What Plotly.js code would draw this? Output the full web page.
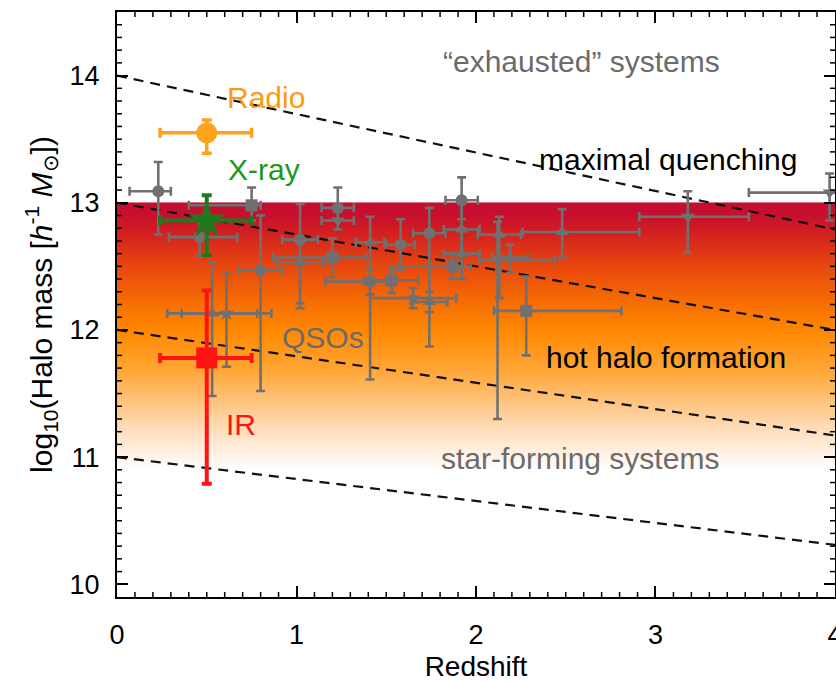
<!DOCTYPE html>
<html>
<head>
<meta charset="utf-8">
<script src="https://cdn.plot.ly/plotly-3.0.1.min.js"></script>
<style>html,body{margin:0;padding:0;background:#fff;}#chart{width:836px;height:682px;}</style>
</head>
<body>
<div id="chart"></div>
<script>
// ---------- data ----------
// Background gradient stops (halo mass, colour)
const gradM = [10.9, 11.0, 11.2, 11.45, 11.7, 12.0, 12.25, 12.5, 12.75, 12.9, 12.995, 13.0];
const gradC = ['#ffffff','#fff5ec','#ffe0c0','#ffc27a','#ffa534','#ff8800','#f56a04','#e8480e','#d4221f','#c8102e','#c40e30','#c40e30'];

// Dashed boundary lines (redshift ends, mass at each end)
const lineZ = [0, 4];
const lineTop   = [14.0, 12.79];
const lineMid   = [13.0, 12.0];
const lineLow   = [12.0, 11.17];
const lineBot   = [11.0, 10.31];

// QSO clustering measurements
const qsoZ    = [0.23, 0.75, 0.46, 0.53, 0.61, 0.80, 1.02, 1.02, 1.23, 1.23, 1.20, 1.41, 1.41, 1.58, 1.53, 1.74, 1.65, 1.74, 1.92, 1.92, 1.92, 1.87, 2.13, 2.12, 2.19, 2.48, 2.28, 3.18, 3.97];
const qsoM    = [13.09,12.98,12.73,12.13,12.13,12.47,12.71,12.53,12.96,12.86,12.57,12.69,12.38,12.67,12.39,12.76,12.25,12.22,13.02,12.79,12.60,12.50,12.75,12.55,12.57,12.77,12.15,12.89,13.08];
const qsoZlo  = [0.16, 0.35, 0.17, 0.25, 0.25, 0.12, 0.10, 0.13, 0.09, 0.09, 0.33, 0.08, 0.25, 0.08, 0.15, 0.09, 0.24, 0.10, 0.09, 0.10, 0.10, 0.30, 0.12, 0.10, 0.10, 0.22, 0.18, 0.27, 0.45];
const qsoZhi  = [0.07, 0.05, 0.21, 0.25, 0.25, 0.12, 0.10, 0.13, 0.09, 0.09, 0.19, 0.08, 0.12, 0.08, 0.15, 0.09, 0.24, 0.10, 0.09, 0.10, 0.10, 0.10, 0.12, 0.32, 0.10, 0.43, 0.53, 0.34, 0.50];
const qsoMlo  = [0.34, 0.12, 0.15, 0.65, 0.42, 0.95, 0.50, 0.36, 0.10, 0.07, 0.15, 1.08, 0.10, 0.20, 0.10, 0.89, 0.08, 0.08, 0.15, 0.20, 0.20, 0.10, 0.50, 1.25, 0.12, 0.20, 0.35, 0.28, 0.22];
const qsoMhi  = [0.23, 0.14, 0.15, 0.40, 0.32, 0.43, 0.28, 0.20, 0.16, 0.07, 0.15, 0.20, 0.10, 0.20, 0.10, 0.20, 0.08, 0.08, 0.18, 0.20, 0.20, 0.10, 0.14, 0.30, 0.10, 0.18, 0.27, 0.20, 0.15];
const qsoSym  = ['circle','square','circle','triangle-up','star','circle','circle','triangle-up','circle','triangle-down','square','triangle-up','circle','circle','square','circle','star','triangle-up','circle','triangle-up','triangle-up','square','triangle-up','triangle-down','triangle-up','triangle-up','square','triangle-down','triangle-down'];

// AGN samples
const radioZ = [0.50], radioM = [13.55], radioZlo = [0.26], radioZhi = [0.25], radioMlo = [0.16], radioMhi = [0.10];
const xrayZ  = [0.50], xrayM  = [12.86], xrayZlo  = [0.26], xrayZhi  = [0.25], xrayMlo  = [0.27], xrayMhi  = [0.20];
const irZ    = [0.50], irM    = [11.78], irZlo    = [0.26], irZhi    = [0.25], irMlo    = [0.99], irMhi    = [0.53];

// ---------- traces ----------
const FONT = 'Liberation Sans, Arial, Helvetica, sans-serif';
const nG = gradM.length;
const bg = {
  type: 'heatmap', x: lineZ, y: gradM,
  z: gradM.map((m, i) => [i, i]),
  colorscale: gradC.map((c, i) => [i / (nG - 1), c]),
  zmin: 0, zmax: nG - 1, zsmooth: 'best', showscale: false, hoverinfo: 'skip'
};
const dashStyle = {color: '#111', width: 2.2, dash: '10px,7px'};
const lines = [lineTop, lineMid, lineLow, lineBot].map(v => ({
  type: 'scatter', mode: 'lines', x: lineZ, y: v, line: dashStyle, hoverinfo: 'skip'
}));
const GREY = '#707070';
const qso = {
  type: 'scatter', mode: 'markers', x: qsoZ, y: qsoM,
  marker: {symbol: qsoSym, size: 12, color: GREY},
  error_x: {type: 'data', symmetric: false, array: qsoZhi, arrayminus: qsoZlo, color: GREY, thickness: 2.6, width: 4.5},
  error_y: {type: 'data', symmetric: false, array: qsoMhi, arrayminus: qsoMlo, color: GREY, thickness: 2.6, width: 4.5}
};
function agn(z, m, zlo, zhi, mlo, mhi, sym, size, col, th) {
  return {
    type: 'scatter', mode: 'markers', x: z, y: m,
    marker: {symbol: sym, size: size, color: col},
    error_x: {type: 'data', symmetric: false, array: zhi, arrayminus: zlo, color: col, thickness: th, width: 5},
    error_y: {type: 'data', symmetric: false, array: mhi, arrayminus: mlo, color: col, thickness: th, width: 5}
  };
}
const radio = agn(radioZ, radioM, radioZlo, radioZhi, radioMlo, radioMhi, 'circle', 21, '#ffa21c', 3.5);
const xray  = agn(xrayZ, xrayM, xrayZlo, xrayZhi, xrayMlo, xrayMhi, 'star', 28, '#1f7a1f', 4);
const ir    = agn(irZ, irM, irZlo, irZhi, irMlo, irMhi, 'square', 21, '#ff1414', 4);

const XR = [0, 4.0001], YR = [9.9, 14.5];
function axisCommon(t0) {
  return {
    showline: true, linecolor: '#000', linewidth: 2, mirror: 'allticks',
    ticks: 'inside', ticklen: 11, tickwidth: 2, tickcolor: '#000',
    showgrid: false, zeroline: false, tick0: t0, dtick: 1,
    tickfont: {family: FONT, size: 27, color: '#000'},
    ticklabeloverflow: 'allow'
  };
}

// minor tick marks every 0.1 on all four sides (inside), as axis-referenced shapes
const minorShapes = [];
const TK = {color: '#000', width: 1.5};
const fy = 5 / 585, fx = 5 / 718;   // 5 px tick length as plot-area fractions
for (let i = 1; i < 40; i++) {
  if (i % 10 === 0) continue;
  const v = i / 10;
  minorShapes.push({type: 'line', xref: 'x', yref: 'paper', x0: v, x1: v, y0: 0, y1: fy, line: TK});
  minorShapes.push({type: 'line', xref: 'x', yref: 'paper', x0: v, x1: v, y0: 1, y1: 1 - fy, line: TK});
}
for (let i = 100; i < 145; i++) {
  if (i % 10 === 0) continue;
  const v = i / 10;
  minorShapes.push({type: 'line', xref: 'paper', yref: 'y', x0: 0, x1: fx, y0: v, y1: v, line: TK});
  minorShapes.push({type: 'line', xref: 'paper', yref: 'y', x0: 1, x1: 1 - fx, y0: v, y1: v, line: TK});
}

const ann = (x, y, text, color) => ({x, y, xref: 'x', yref: 'y', text, showarrow: false,
  font: {family: FONT, size: 30, color}});

const layout = {
  width: 836, height: 682,
  margin: {l: 117, r: 1, t: 12, b: 85},
  paper_bgcolor: '#fff', plot_bgcolor: '#fff', showlegend: false,
  xaxis: Object.assign(axisCommon(0), {range: XR, ticklabelstandoff: 13,
    title: {text: 'Redshift', font: {family: FONT, size: 28, color: '#000'}, standoff: 8}}),
  yaxis: Object.assign(axisCommon(10), {range: YR, ticklabelstandoff: 10,
    title: {text: 'log<sub>10</sub>(Halo mass [<i>h</i><sup>-1</sup> <i>M</i><sub>⊙</sub>])',
            font: {family: FONT, size: 30, color: '#000'}, standoff: 8}}),
  shapes: minorShapes,
  annotations: [
    ann(2.585, 14.11, '“exhausted” systems', '#6b6b6b'),
    ann(0.83, 13.83, 'Radio', '#ff9a10'),
    ann(0.82, 13.26, 'X-ray', '#1a9a1a'),
    ann(3.07, 13.34, 'maximal quenching', '#000'),
    ann(1.15, 11.94, 'QSOs', '#6b6b6b'),
    ann(3.06, 11.78, 'hot halo formation', '#000'),
    ann(0.69, 11.26, 'IR', '#ff1414'),
    ann(2.58, 10.99, 'star-forming systems', '#6b6b6b')
  ]
};

Plotly.newPlot('chart', [bg].concat(lines, [qso, radio, ir, xray]), layout, {staticPlot: true, displayModeBar: false});
</script>
</body>
</html>
